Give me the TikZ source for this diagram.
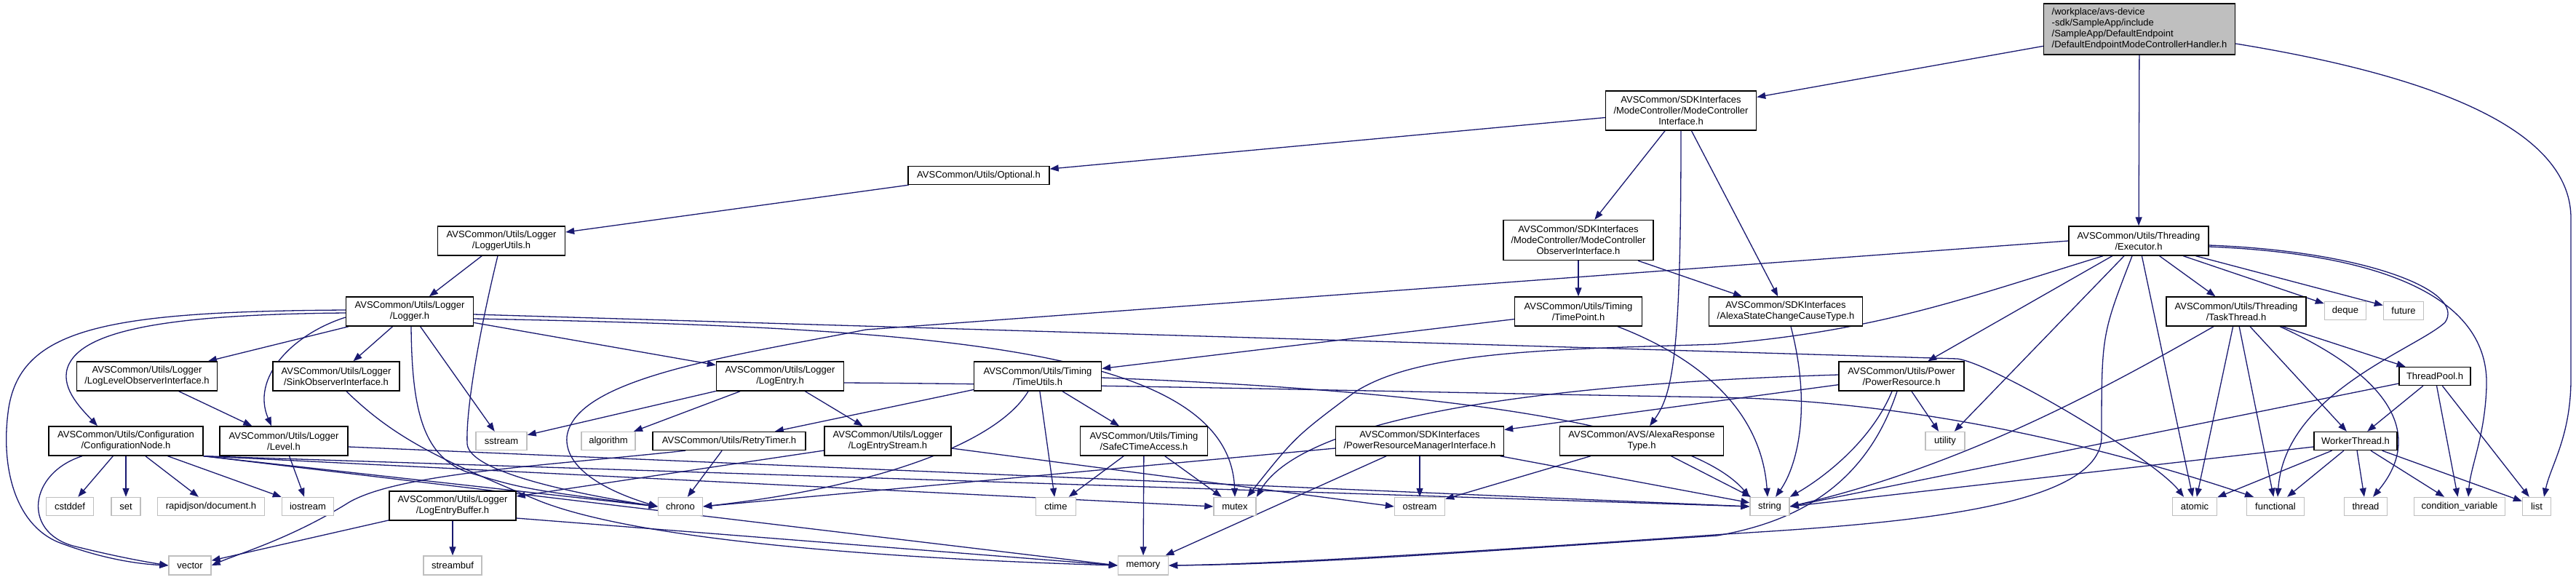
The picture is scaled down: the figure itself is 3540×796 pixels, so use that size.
\documentclass[tikz,border=0pt]{standalone}
\usepackage{fontspec}
\setmainfont{Liberation Sans}
\usetikzlibrary{arrows.meta}
\definecolor{edgecol}{HTML}{191970}
\definecolor{leafcol}{HTML}{BFBFBF}
\pgfdeclarelayer{bg}
\pgfsetlayers{bg,main}
\begin{document}
\begin{tikzpicture}[x=1pt,y=-1pt,
  font=\fontsize{13}{15}\selectfont,
  nd/.style={draw=black, line width=1.4pt, inner sep=0pt, align=center, fill=white},
  leaf/.style={draw=leafcol, line width=1.4pt, inner sep=0pt, align=center, fill=white, minimum height=25pt},
  edge/.style={draw=edgecol, line width=1.3pt, -{Triangle[length=12pt,width=9pt]}}]
\useasboundingbox (0,0) rectangle (3540,796);
% ---------- nodes ----------
\node[nd, fill=leafcol, align=left, minimum width=263pt, minimum height=70pt] (top) at (2940,40)
  {/workplace/avs-device\\-sdk/SampleApp/include\\/SampleApp/DefaultEndpoint\\/DefaultEndpointModeControllerHandler.h};
\node[nd, minimum width=207pt, minimum height=54pt] (mci) at (2310,152) {AVSCommon/SDKInterfaces\\/ModeController/ModeController\\Interface.h};
\node[nd, minimum width=192pt, minimum height=40pt] (exe) at (2939,331) {AVSCommon/Utils/Threading\\/Executor.h};
\node[nd, minimum width=194pt, minimum height=25pt] (opt) at (1345,241) {AVSCommon/Utils/Optional.h};
\node[nd, minimum width=206pt, minimum height=55pt] (mcoi) at (2169,330) {AVSCommon/SDKInterfaces\\/ModeController/ModeController\\ObserverInterface.h};
\node[nd, minimum width=175pt, minimum height=40pt] (lu) at (689,331) {AVSCommon/Utils/Logger\\/LoggerUtils.h};
\node[nd, minimum width=175pt, minimum height=40pt] (logger) at (563,428) {AVSCommon/Utils/Logger\\/Logger.h};
\node[nd, minimum width=175pt, minimum height=40pt] (tp) at (2169,428) {AVSCommon/Utils/Timing\\/TimePoint.h};
\node[nd, minimum width=211pt, minimum height=40pt] (ascct) at (2454,428) {AVSCommon/SDKInterfaces\\/AlexaStateChangeCauseType.h};
\node[nd, minimum width=192pt, minimum height=40pt] (tt) at (3073,428) {AVSCommon/Utils/Threading\\/TaskThread.h};
\node[leaf, minimum width=57pt] (deque) at (3223,427) {deque};
\node[leaf, minimum width=55pt] (future) at (3303,427) {future};
\node[nd, minimum width=193pt, minimum height=40pt] (llo) at (202,517) {AVSCommon/Utils/Logger\\/LogLevelObserverInterface.h};
\node[nd, minimum width=174pt, minimum height=40pt] (sink) at (462,517) {AVSCommon/Utils/Logger\\/SinkObserverInterface.h};
\node[nd, minimum width=175pt, minimum height=40pt] (le) at (1072,517) {AVSCommon/Utils/Logger\\/LogEntry.h};
\node[nd, minimum width=175pt, minimum height=40pt] (tu) at (1426,517) {AVSCommon/Utils/Timing\\/TimeUtils.h};
\node[nd, minimum width=172pt, minimum height=40pt] (pr) at (2613,517) {AVSCommon/Utils/Power\\/PowerResource.h};
\node[nd, minimum width=98pt, minimum height=25pt] (tpool) at (3346,517) {ThreadPool.h};
\node[nd, minimum width=212pt, minimum height=40pt] (cfg) at (173,606) {AVSCommon/Utils/Configuration\\/ConfigurationNode.h};
\node[nd, minimum width=176pt, minimum height=40pt] (level) at (390,606) {AVSCommon/Utils/Logger\\/Level.h};
\node[leaf, minimum width=70pt] (sstream) at (689,606) {sstream};
\node[leaf, minimum width=74pt] (algorithm) at (836,606) {algorithm};
\node[nd, minimum width=210pt, minimum height=25pt] (rt) at (1002,606) {AVSCommon/Utils/RetryTimer.h};
\node[nd, minimum width=174pt, minimum height=40pt] (les) at (1220,606) {AVSCommon/Utils/Logger\\/LogEntryStream.h};
\node[nd, minimum width=175pt, minimum height=40pt] (sct) at (1572,606) {AVSCommon/Utils/Timing\\/SafeCTimeAccess.h};
\node[nd, minimum width=231pt, minimum height=40pt] (prmi) at (1951,606) {AVSCommon/SDKInterfaces\\/PowerResourceManagerInterface.h};
\node[nd, minimum width=225pt, minimum height=40pt] (art) at (2256,606) {AVSCommon/AVS/AlexaResponse\\Type.h};
\node[leaf, minimum width=54pt] (utility) at (2673,606) {utility};
\node[nd, minimum width=114pt, minimum height=25pt] (wt) at (3237,606) {WorkerThread.h};
\node[leaf, minimum width=65pt] (cstddef) at (96,696) {cstddef};
\node[leaf, minimum width=40pt] (set) at (173,696) {set};
\node[leaf, minimum width=147pt] (rapid) at (290,696) {rapidjson/document.h};
\node[leaf, minimum width=71pt] (iostream) at (423,696) {iostream};
\node[nd, minimum width=174pt, minimum height=40pt] (leb) at (622,695) {AVSCommon/Utils/Logger\\/LogEntryBuffer.h};
\node[leaf, minimum width=61pt] (chrono) at (935,696) {chrono};
\node[leaf, minimum width=55pt] (ctime) at (1451,696) {ctime};
\node[leaf, minimum width=58pt] (mutex) at (1697,696) {mutex};
\node[leaf, minimum width=69pt] (ostream) at (1951,696) {ostream};
\node[leaf, minimum width=54pt] (string) at (2432,696) {string};
\node[leaf, minimum width=61pt] (atomic) at (3016,696) {atomic};
\node[leaf, minimum width=79pt] (functional) at (3127,696) {functional};
\node[leaf, minimum width=59pt] (thread) at (3251,696) {thread};
\node[leaf, minimum width=125pt] (condvar) at (3380,696) {condition\_variable};
\node[leaf, minimum width=39pt] (list) at (3486,696) {list};
\node[leaf, minimum width=58pt, minimum height=26pt] (vector) at (261,777) {vector};
\node[leaf, minimum width=80pt, minimum height=26pt] (streambuf) at (622,777) {streambuf};
\node[leaf, minimum width=69pt, minimum height=26pt] (memory) at (1571,777) {memory};
% ---------- edges ----------
\begin{pgfonlayer}{bg}
% top
\draw[edge] (top) -- (mci);
\draw[edge] (top) -- (exe);
\draw[edge] ([yshift=-20pt]top.east) .. controls (3380,110) and (3533,190) .. (3533,300) -- (3533,520) .. controls (3533,600) and (3505,640) .. ([xshift=10pt]list.north);
% mci
\draw[edge] (mci) -- (opt);
\draw[edge] (mci) -- (mcoi);
\draw[edge] (mci.south) .. controls (2310,480) and (2300,540) .. ([xshift=11pt]art.north);
\draw[edge] (mci) -- (ascct);
% mcoi
\draw[edge] (mcoi) -- (tp);
\draw[edge] (mcoi) -- (ascct);
% opt, lu
\draw[edge] (opt) -- (lu);
\draw[edge] (lu) -- (logger);
\draw[edge] ([xshift=-5pt]lu.south) .. controls (660,450) and (640,560) .. (642,610) .. controls (645,650) and (800,680) .. (chrono.west);
% logger
\draw[edge] (logger) -- (llo);
\draw[edge] (logger) -- (sink);
\draw[edge] ([yshift=-2pt]logger.west) .. controls (250,432) and (120,450) .. (95,500) .. controls (80,530) and (110,560) .. ([xshift=-39pt]cfg.north);
\draw[edge] ([yshift=2pt]logger.west) .. controls (150,428) and (30,450) .. (12,560) .. controls (0,640) and (20,720) .. (80,745) .. controls (140,768) and (190,775) .. (vector.west);
\draw[edge] ([yshift=-8pt]logger.west) .. controls (400,460) and (345,520) .. ([xshift=-17pt]level.north);
\draw[edge] (logger) -- (sstream);
\draw[edge] ([xshift=2pt]logger.south) .. controls (566,560) and (580,625) .. (640,648) .. controls (720,672) .. (chrono.west);
\draw[edge] (logger) -- (le);
\draw[edge] ([yshift=-10pt]logger.east) .. controls (1300,450) and (1690,480) .. (mutex.north);
\draw[edge] ([yshift=-4pt]logger.east) -- (2690,493) .. controls (2740,500) and (2960,630) .. ([xshift=-15pt]atomic.north);
% llo, sink, level
\draw[edge] (llo) -- (level);
\draw[edge] ([xshift=14pt]sink.south) .. controls (540,600) and (600,630) .. (743,689) .. controls (900,750) and (1300,770) .. (memory.west);
\draw[edge] (level) -- (iostream);
\draw[edge] ([yshift=-8pt]level.east) -- (string.west);
% cfg
\draw[edge] (cfg) -- (cstddef);
\draw[edge] (cfg) -- (set);
\draw[edge] (cfg) -- (rapid);
\draw[edge] (cfg) -- (iostream);
\draw[edge] ([xshift=-60pt]cfg.south) .. controls (40,650) and (30,730) .. (100,750) .. controls (160,765) and (200,772) .. (vector.west);
\draw[edge] (cfg.south east) -- (chrono.west);
\draw[edge] (cfg.south east) -- (string.west);
\draw[edge] (cfg.south east) -- (memory.west);
\draw[edge] (cfg.south east) -- (mutex.west);
% le
\draw[edge] (le) -- (sstream);
\draw[edge] (le) -- (algorithm);
\draw[edge] (le) -- (les);
\draw[edge] ([yshift=-9pt]le.east) .. controls (1500,528) and (2000,540) .. (2360,546) .. controls (2600,550) and (2850,600) .. ([xshift=-30pt]functional.north);
% les, leb
\draw[edge] (les) -- (leb);
\draw[edge] ([yshift=-10pt]les.east) -- (ostream.west);
\draw[edge] (leb) -- (streambuf);
\draw[edge] (leb) -- (vector);
\draw[edge] ([yshift=-17pt]leb.east) -- (memory.west);
% tu
\draw[edge] (tu) -- (rt);
\draw[edge] ([xshift=-13pt]tu.south) .. controls (1370,610) and (1200,670) .. (chrono.east);
\draw[edge] (tu) -- (ctime);
\draw[edge] (tu) -- (sct);
\draw[edge] ([yshift=-2pt]tu.east) .. controls (1800,530) and (2300,560) .. (string.north west);
% sct, rt
\draw[edge] (sct) -- (ctime);
\draw[edge] (sct) -- (mutex);
\draw[edge] (sct) -- (memory);
\draw[edge] (rt) -- (chrono);
\draw[edge] ([xshift=-60pt]rt.south) .. controls (750,640) and (550,650) .. (480,690) .. controls (400,740) and (330,760) .. (vector.east);
% tp, ascct, art
\draw[edge] (tp) -- (tu);
\draw[edge] ([xshift=54pt]tp.south) .. controls (2330,490) and (2420,560) .. ([xshift=-3pt]string.north);
\draw[edge] ([xshift=7pt]ascct.south) .. controls (2490,560) and (2470,640) .. ([xshift=8pt]string.north);
\draw[edge] (art) -- (ostream);
\draw[edge] (art) -- (string);
% prmi
\draw[edge] (prmi) -- (ostream);
\draw[edge] (prmi) -- (memory);
\draw[edge] (prmi) -- (string);
\draw[edge] ([yshift=-10pt]prmi.west) -- (chrono.east);
% pr
\draw[edge] (pr) -- (prmi);
\draw[edge] (pr) -- (utility);
\draw[edge] ([xshift=-13pt]pr.south) .. controls (2570,610) and (2500,660) .. (string.north east);
\draw[edge] ([xshift=-6pt]pr.south) .. controls (2560,680) and (2450,720) .. (2360,736) .. controls (2000,760) and (1800,775) .. (memory.east);
\draw[edge] ([yshift=2pt]pr.west) .. controls (2200,525) and (1800,560) .. (mutex.north east);
% exe
\draw[edge] (exe) -- (tt);
\draw[edge] (exe) -- (deque);
\draw[edge] (exe) -- (future);
\draw[edge] (exe) -- (pr);
\draw[edge] (exe) -- (utility);
\draw[edge] (exe) -- (atomic);
\draw[edge] ([yshift=-6pt]exe.east) .. controls (3250,345) and (3390,400) .. (3360,443) .. controls (3320,480) and (3140,540) .. ([xshift=3pt]functional.north);
\draw[edge] ([yshift=-8pt]exe.east) .. controls (3300,350) and (3420,420) .. (3417,530) .. controls (3415,600) and (3395,640) .. ([xshift=12pt]condvar.north);
\draw[edge] ([xshift=-9pt]exe.south) .. controls (2888,460) .. (2888,600) .. controls (2888,700) and (2600,720) .. (2370,734) .. controls (2000,760) and (1750,775) .. (memory.east);
\draw[edge] ([xshift=-49pt]exe.south) .. controls (2700,410) and (2580,455) .. (2360,473) .. controls (2150,480) and (1950,480) .. (1860,540) .. controls (1780,600) .. ([xshift=17pt]mutex.north);
\draw[edge] (exe.west) -- (1190,453) .. controls (1000,490) and (790,520) .. (779,600) .. controls (775,650) and (850,680) .. (chrono.west);
% tt
\draw[edge] (tt) -- (atomic);
\draw[edge] (tt) -- (functional);
\draw[edge] (tt) -- (wt);
\draw[edge] (tt) -- (tpool);
\draw[edge] ([xshift=60pt]tt.south) .. controls (3290,520) and (3330,600) .. ([xshift=10pt]thread.north);
\draw[edge] ([xshift=-31pt]tt.south) .. controls (2900,530) and (2700,640) .. (string.east);
% tpool, wt
\draw[edge] (tpool) -- (wt);
\draw[edge] (tpool) -- (condvar);
\draw[edge] (tpool) -- (list);
\draw[edge] ([yshift=-10pt]tpool.west) -- (string.east);
\draw[edge] (wt) -- (atomic);
\draw[edge] (wt) -- (functional);
\draw[edge] (wt) -- (thread);
\draw[edge] (wt) -- (condvar);
\draw[edge] (wt) -- (list);
\draw[edge] ([yshift=-8pt]wt.west) -- (string.east);
\end{pgfonlayer}
\end{tikzpicture}
\end{document}
